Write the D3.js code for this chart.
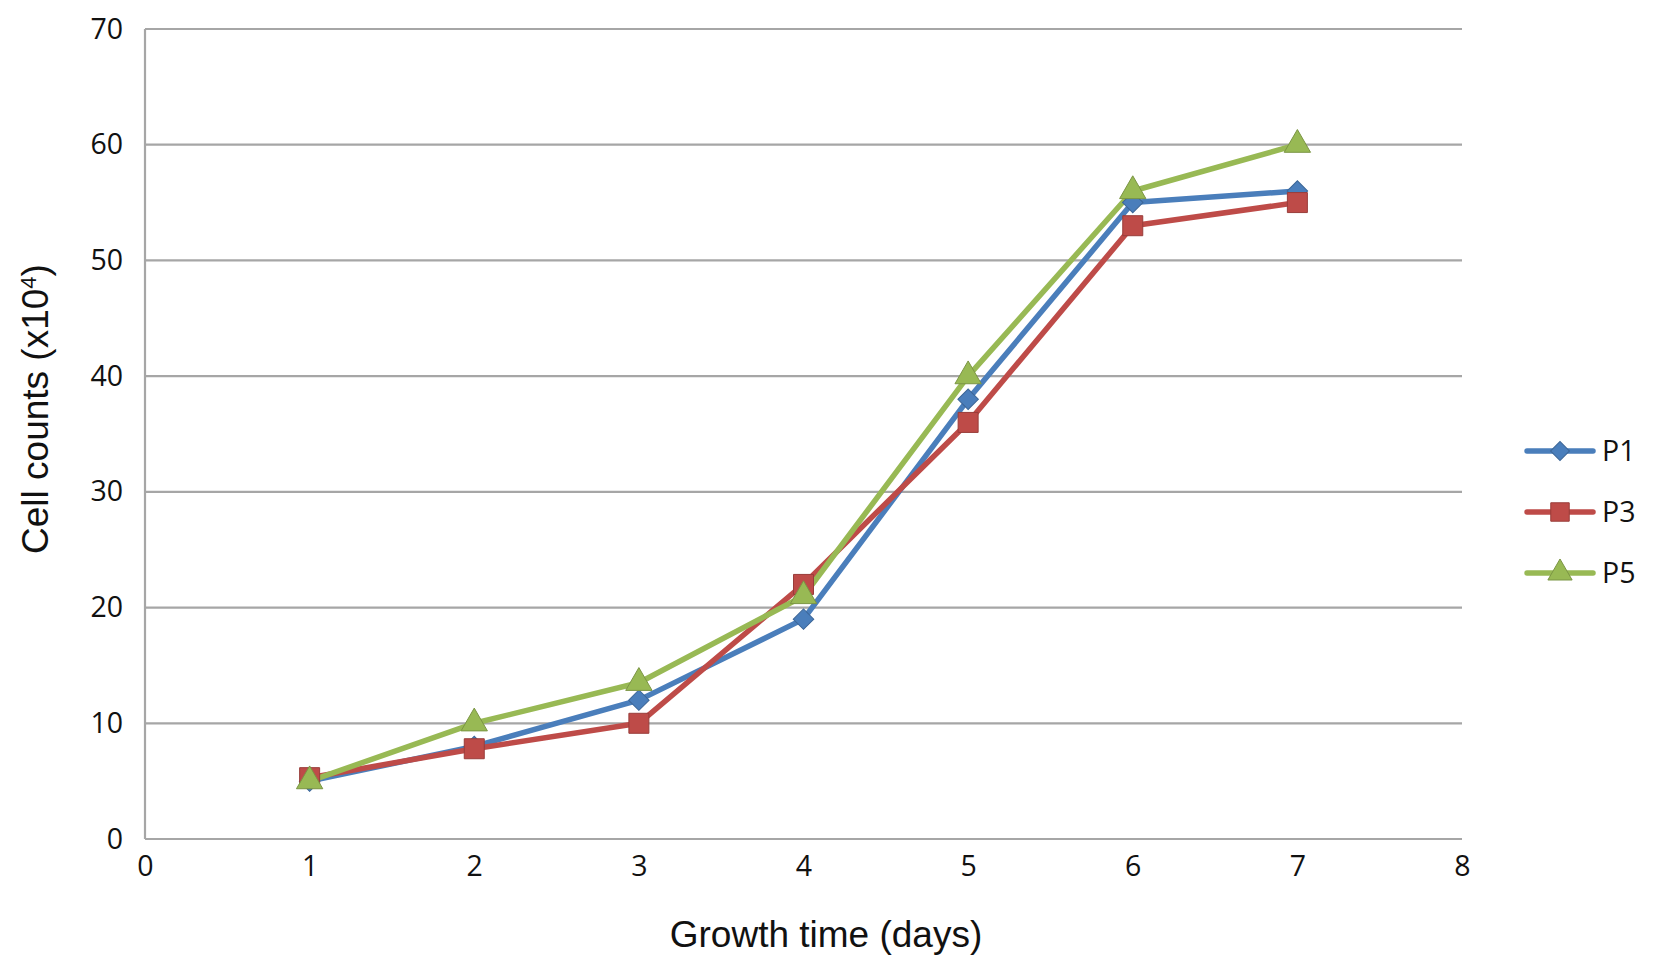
<!DOCTYPE html>
<html>
<head>
<meta charset="utf-8">
<script src="https://cdn.jsdelivr.net/npm/d3@7"></script>
<style>
  body { margin: 0; background: #fff; }
  svg text { fill: #111; }
</style>
</head>
<body>
<svg id="chart" width="1654" height="966"></svg>
<script>
// growth curve data
const days = [1, 2, 3, 4, 5, 6, 7];
const p1 = [5, 8, 12, 19, 38, 55, 56];
const p3 = [5.3, 7.8, 10, 22, 36, 53, 55];
const p5 = [5, 10, 13.5, 21, 40, 56, 60];
const seriesNames = ['P1', 'P3', 'P5'];
const xTicks = [0, 1, 2, 3, 4, 5, 6, 7, 8];
const yTicks = [0, 10, 20, 30, 40, 50, 60, 70];

// Excel-style markers: diamond is a square turned 45 degrees
const series = [
  { name: seriesNames[0], values: p1, color: '#4a7ebb', shape: d3.symbolSquare, size: 210, rotate: 45 },
  { name: seriesNames[1], values: p3, color: '#be4b48', shape: d3.symbolSquare, size: 400, rotate: 0 },
  { name: seriesNames[2], values: p5, color: '#98b954', shape: d3.symbolTriangle, size: 300, rotate: 0 }
];

const margin = { top: 29, right: 192, bottom: 127, left: 145 };
const svg = d3.select('#chart');
const width = +svg.attr('width') - margin.left - margin.right;
const height = +svg.attr('height') - margin.top - margin.bottom;

const g = svg.append('g').attr('transform', `translate(${margin.left},${margin.top})`);

const x = d3.scaleLinear().domain([0, 8]).range([0, width]);
const y = d3.scaleLinear().domain([0, 70]).range([height, 0]);

// gridlines
g.append('g')
  .selectAll('line')
  .data(yTicks)
  .join('line')
  .attr('x1', 0).attr('x2', width)
  .attr('y1', d => y(d)).attr('y2', d => y(d))
  .attr('stroke', '#a6a6a6')
  .attr('stroke-width', 2.2);

// left axis line
g.append('line')
  .attr('x1', 0).attr('x2', 0)
  .attr('y1', 0).attr('y2', height)
  .attr('stroke', '#a6a6a6')
  .attr('stroke-width', 2.2);

// axes
const yAxis = g.append('g')
  .call(d3.axisLeft(y).tickValues(yTicks).tickSize(0).tickPadding(22));
yAxis.select('.domain').remove();
yAxis.selectAll('text')
  .style('font-family', '"Open Sans", sans-serif')
  .style('font-size', '28.5px');

const xAxis = g.append('g')
  .attr('transform', `translate(0,${height})`)
  .call(d3.axisBottom(x).tickValues(xTicks).tickSize(0).tickPadding(17));
xAxis.select('.domain').remove();
xAxis.selectAll('text')
  .style('font-family', '"Open Sans", sans-serif')
  .style('font-size', '28.5px');

// axis titles
svg.append('text')
  .attr('x', 826)
  .attr('y', 947)
  .attr('text-anchor', 'middle')
  .style('font-family', '"Liberation Sans", Arial, sans-serif')
  .style('font-size', '37px')
  .text('Growth time (days)');

const yTitle = svg.append('text')
  .attr('transform', `translate(48,${margin.top + height / 2 - 25}) rotate(-90)`)
  .attr('text-anchor', 'middle')
  .style('font-family', '"Liberation Sans", Arial, sans-serif')
  .style('font-size', '37px');
yTitle.append('tspan').text('Cell counts (x10');
yTitle.append('tspan').attr('baseline-shift', 'super').style('font-size', '22px').text('4');
yTitle.append('tspan').text(')');

// lines and markers
const line = d3.line()
  .x((d, i) => x(days[i]))
  .y(d => y(d));

series.forEach(s => {
  g.append('path')
    .datum(s.values)
    .attr('fill', 'none')
    .attr('stroke', s.color)
    .attr('stroke-width', 5.5)
    .attr('stroke-linejoin', 'round')
    .attr('d', line);
});

series.forEach(s => {
  g.append('g')
    .selectAll('path')
    .data(s.values)
    .join('path')
    .attr('transform', (d, i) => `translate(${x(days[i])},${y(d)}) rotate(${s.rotate})`)
    .attr('d', d3.symbol().type(s.shape).size(s.size))
    .attr('fill', s.color)
    .attr('stroke', d3.color(s.color).darker(0.6))
    .attr('stroke-width', 1);
});

// legend
const legend = svg.append('g').attr('transform', 'translate(1527,451)');
const item = legend.selectAll('g')
  .data(series)
  .join('g')
  .attr('transform', (d, i) => `translate(0,${i * 61})`);
item.append('line')
  .attr('x1', 0).attr('x2', 66)
  .attr('stroke', d => d.color)
  .attr('stroke-width', 5.5)
  .attr('stroke-linecap', 'round');
item.append('path')
  .attr('transform', d => `translate(33,0) rotate(${d.rotate})`)
  .attr('d', d => d3.symbol().type(d.shape).size(d.size * 0.85)())
  .attr('fill', d => d.color)
  .attr('stroke', d => d3.color(d.color).darker(0.6))
  .attr('stroke-width', 1);
item.append('text')
  .attr('x', 75)
  .attr('dy', '0.36em')
  .style('font-family', '"Open Sans", sans-serif')
  .style('font-size', '28.5px')
  .text(d => d.name);
</script>
</body>
</html>
